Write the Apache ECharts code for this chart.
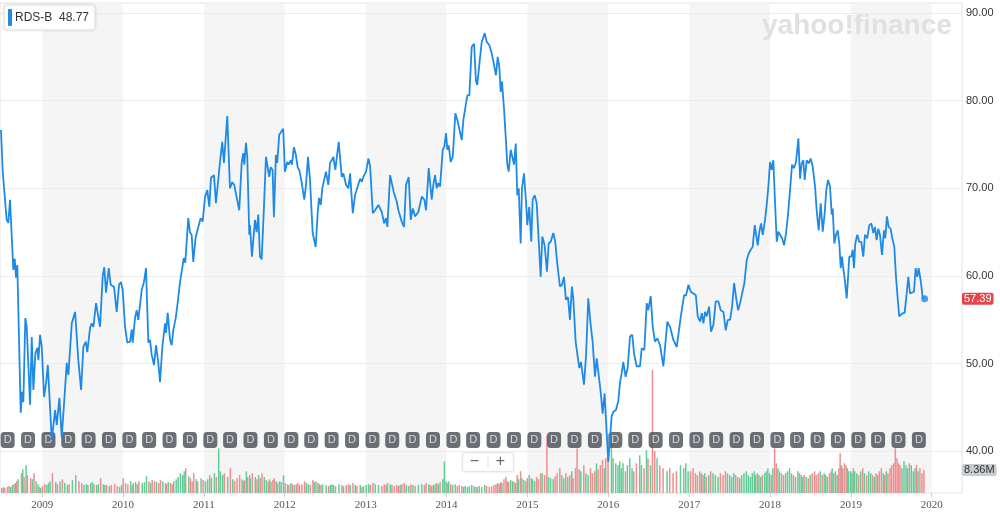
<!DOCTYPE html>
<html>
<head>
<meta charset="utf-8">
<script src="https://cdn.jsdelivr.net/npm/echarts@6/dist/echarts.min.js"></script>
<style>
  html, body { margin: 0; padding: 0; background: #fff; }
  #main { width: 1000px; height: 514px; }
</style>
</head>
<body>
<div id="main"></div>
<script>
// weekly points, time as decimal year
const dates = [
  2008.500,2008.521,2008.537,2008.570,2008.590,2008.611,2008.632,2008.652,2008.669,2008.685,2008.701,2008.743,2008.759,2008.775,2008.800,2008.817,2008.858,2008.879,2008.899,2008.924,2008.948,2008.961,2008.981,
  2009.002,2009.031,2009.056,2009.077,2009.096,2009.126,2009.167,2009.188,2009.220,2009.249,2009.278,2009.311,2009.331,2009.373,2009.414,2009.454,2009.488,2009.516,2009.546,2009.565,2009.599,2009.620,2009.640,2009.673,2009.694,2009.722,2009.756,2009.775,2009.796,2009.830,2009.854,2009.895,2009.928,2009.957,2009.981,
  2010.002,2010.031,2010.059,2010.093,2010.114,2010.126,2010.154,2010.175,2010.195,2010.237,2010.265,2010.290,2010.319,2010.340,2010.360,2010.389,2010.414,2010.442,2010.463,2010.492,2010.525,2010.537,2010.558,2010.587,2010.607,2010.627,2010.657,2010.682,2010.710,2010.738,2010.756,2010.775,2010.812,2010.833,2010.854,2010.874,2010.904,2010.923,2010.965,2010.990,
  2011.019,2011.047,2011.072,2011.093,2011.130,2011.154,2011.183,2011.204,2011.232,2011.253,2011.294,2011.327,2011.356,2011.380,2011.410,2011.442,2011.472,2011.491,2011.504,2011.525,2011.541,2011.566,2011.574,2011.599,2011.636,2011.657,2011.677,2011.698,2011.719,2011.747,2011.772,2011.796,2011.812,2011.830,2011.854,2011.870,2011.895,2011.911,2011.936,2011.957,2011.985,
  2012.006,2012.035,2012.052,2012.077,2012.093,2012.117,2012.142,2012.163,2012.183,2012.212,2012.245,2012.266,2012.290,2012.315,2012.348,2012.364,2012.385,2012.410,2012.426,2012.447,2012.467,2012.512,2012.541,2012.562,2012.583,2012.603,2012.627,2012.669,2012.706,2012.726,2012.759,2012.788,2012.809,2012.842,2012.870,2012.891,2012.932,2012.953,2012.973,
  2013.006,2013.035,2013.056,2013.089,2013.117,2013.158,2013.200,2013.229,2013.253,2013.269,2013.303,2013.324,2013.352,2013.385,2013.405,2013.426,2013.447,2013.475,2013.500,2013.533,2013.558,2013.583,2013.611,2013.652,2013.694,2013.726,2013.747,2013.780,2013.796,2013.817,2013.837,2013.858,2013.879,2013.899,2013.920,2013.953,2013.973,2013.994,
  2014.010,2014.027,2014.052,2014.077,2014.109,2014.134,2014.158,2014.188,2014.208,2014.229,2014.257,2014.282,2014.311,2014.340,2014.364,2014.380,2014.405,2014.435,2014.472,2014.496,2014.528,2014.558,2014.587,2014.611,2014.632,2014.652,2014.669,2014.685,2014.710,2014.735,2014.751,2014.768,2014.793,2014.817,2014.834,2014.855,2014.874,2014.892,2014.916,2014.932,2014.957,2014.982,2014.998,
  2015.022,2015.047,2015.064,2015.089,2015.114,2015.133,2015.163,2015.183,2015.212,2015.241,2015.262,2015.287,2015.319,2015.343,2015.368,2015.401,2015.426,2015.451,2015.475,2015.500,2015.525,2015.549,2015.566,2015.595,2015.615,2015.640,2015.661,2015.698,2015.723,2015.751,2015.781,2015.805,2015.834,2015.855,2015.875,2015.904,2015.929,2015.953,2015.969,
  2015.998,2016.040,2016.060,2016.093,2016.121,2016.142,2016.163,2016.183,2016.212,2016.237,2016.266,2016.294,2016.315,2016.348,2016.389,2016.410,2016.442,2016.472,2016.491,2016.521,2016.546,2016.574,2016.603,2016.636,2016.677,2016.726,2016.759,2016.800,2016.842,2016.892,2016.932,2016.957,2016.986,
  2017.015,2017.047,2017.077,2017.101,2017.130,2017.151,2017.171,2017.191,2017.212,2017.241,2017.265,2017.294,2017.323,2017.356,2017.385,2017.418,2017.447,2017.472,2017.500,2017.525,2017.550,2017.574,2017.599,2017.624,2017.648,2017.677,2017.706,2017.731,2017.756,2017.780,2017.805,2017.821,2017.842,2017.862,2017.883,2017.904,2017.932,2017.953,2017.973,
  2017.994,2018.015,2018.035,2018.056,2018.077,2018.097,2018.118,2018.143,2018.167,2018.192,2018.216,2018.241,2018.266,2018.290,2018.315,2018.344,2018.365,2018.385,2018.405,2018.422,2018.447,2018.472,2018.496,2018.521,2018.550,2018.570,2018.595,2018.620,2018.645,2018.669,2018.689,2018.710,2018.735,2018.756,2018.768,2018.788,2018.809,2018.830,2018.850,2018.867,2018.883,2018.899,2018.920,2018.941,2018.957,2018.973,
  2018.998,2019.015,2019.031,2019.047,2019.072,2019.096,2019.121,2019.146,2019.167,2019.195,2019.220,2019.245,2019.269,2019.290,2019.311,2019.331,2019.352,2019.377,2019.401,2019.418,2019.438,2019.459,2019.484,2019.504,2019.529,2019.550,2019.571,2019.590,2019.608,2019.632,2019.657,2019.682,2019.702,2019.723,2019.747,2019.772,2019.793,2019.813,2019.830,2019.854,2019.879,2019.904
];

const close = [
  76.65,71.9,71.75,66.4,66.05,68.7,68.7,60.7,61.95,59.8,61.25,44.4,46.8,45.6,55.2,54.2,45.3,53.05,47.0,51.2,51.8,50.4,53.3,
  51.9,46.2,47.8,49.85,49.85,41.3,44.7,43.0,46.1,41.6,45.5,50.1,48.7,54.6,55.9,50.4,47.0,51.9,52.5,51.3,54.1,54.6,54.2,56.9,57.0,54.2,60.1,61.0,58.1,60.9,59.0,58.75,55.9,59.0,59.3,
  58.4,54.2,52.4,52.5,53.9,52.4,55.2,56.1,55.0,58.4,59.3,60.9,52.4,52.7,51.0,49.85,52.1,50.1,47.9,51.9,54.6,53.5,55.8,52.7,52.1,53.8,55.2,57.0,59.3,60.9,62.05,61.5,66.6,65.0,64.7,61.6,64.45,64.3,66.6,66.2,
  69.0,69.8,67.9,71.2,71.5,68.3,71.0,73.0,75.3,72.9,78.25,70.0,70.7,70.4,69.0,67.5,72.9,74.0,72.7,75.2,73.6,64.7,65.8,62.2,66.4,65.0,67.0,62.2,61.9,67.8,73.6,73.5,71.3,72.4,72.1,66.7,73.8,72.9,76.1,76.3,76.8,
  71.9,73.0,72.7,73.2,72.7,74.7,73.8,72.4,72.1,70.7,68.7,70.4,73.6,71.0,64.9,65.0,63.3,67.2,68.9,68.1,70.0,71.9,70.4,72.9,73.2,73.6,72.1,75.3,71.3,71.7,70.4,70.0,71.7,67.15,69.2,69.05,71.1,70.75,71.3,
  71.9,73.4,72.5,67.15,67.5,68.1,67.3,66.0,66.6,65.6,71.5,71.3,69.4,68.5,67.5,67.5,66.2,65.6,70.4,71.3,66.4,67.7,66.8,67.3,69.05,68.7,67.5,72.3,70.75,68.7,70.4,71.5,70.0,70.6,70.2,74.4,74.75,76.3,
  74.4,74.9,73.0,73.6,78.55,77.8,77.6,75.5,77.8,78.0,80.6,80.6,86.15,86.5,82.2,81.8,84.1,86.7,87.7,86.7,86.35,85.4,84.1,82.9,85.0,83.9,81.0,82.2,79.1,75.3,72.7,71.9,74.4,74.6,72.7,75.1,69.2,70.0,63.7,70.0,71.7,68.5,65.8,
  67.9,63.9,68.7,69.2,68.3,68.1,59.9,64.5,63.5,60.5,63.7,63.9,64.9,63.9,61.45,58.8,59.0,59.9,57.3,57.6,55.0,58.8,57.45,52.5,52.3,49.5,50.2,47.6,50.8,57.45,54.4,52.5,48.5,50.6,49.1,46.8,44.3,46.6,43.8,
  38.8,44.0,44.5,44.7,45.7,47.8,48.9,50.2,48.5,49.5,53.1,53.3,51.2,49.7,49.7,51.75,51.55,56.9,56.1,57.7,54.2,52.5,52.9,52.1,49.7,54.8,54.2,52.7,51.9,55.4,57.8,57.8,59.0,
  58.2,58.0,57.8,55.4,54.8,55.75,54.6,55.9,55.4,56.5,53.65,54.4,57.1,57.1,56.1,55.9,53.8,55.0,55.0,56.5,59.2,57.6,56.1,56.9,57.1,59.2,61.8,62.6,63.0,63.35,65.8,66.0,63.5,65.05,66.0,64.7,66.4,68.1,70.2,
  73.0,72.1,73.2,68.3,63.9,65.05,65.2,64.3,63.5,64.9,67.0,69.8,72.7,72.3,73.0,75.7,71.1,72.85,73.2,70.95,73.2,72.85,73.4,72.5,70.2,67.5,65.2,68.3,65.05,67.15,69.8,70.95,70.2,67.0,67.7,63.7,64.7,65.2,63.7,60.9,62.2,60.9,59.35,57.45,59.7,62.2,
  62.2,63.0,60.9,63.7,64.7,63.9,63.9,62.2,64.7,64.3,65.8,66.0,64.9,65.6,64.1,65.4,64.7,62.4,65.2,64.3,66.8,65.6,65.4,64.3,63.35,59.9,57.45,55.4,55.3,55.75,55.8,58.0,59.9,58.0,58.2,58.2,60.9,59.9,60.9,59.55,57.6,57.39
];

// volume, millions
const volume = [
  1.8,2.2,1.8,2.2,2.5,2.2,2.9,3.2,3.6,4.3,5.0,7.2,8.6,5.8,10.1,6.5,5.4,5.0,7.2,4.3,3.2,2.2,1.8,
  2.5,3.2,2.9,3.6,4.3,7.2,4.0,3.2,4.3,5.0,3.6,2.9,3.2,4.7,6.5,4.3,3.6,2.9,3.2,2.9,3.6,4.0,3.2,2.9,3.2,5.4,3.2,2.9,2.9,2.5,2.9,3.2,2.5,2.2,2.9,
  5.4,3.6,3.2,4.3,2.9,3.6,4.0,3.2,4.3,3.6,4.0,6.1,4.3,3.6,4.7,4.3,4.0,3.6,4.7,4.3,3.6,3.2,4.0,3.6,3.2,4.3,5.0,5.8,7.2,6.5,7.9,9.0,6.1,5.4,4.3,7.2,5.0,4.3,5.4,4.7,
  4.3,5.0,6.5,5.4,7.2,5.8,16.2,7.9,6.5,7.2,5.8,9.0,5.0,4.3,5.4,6.5,5.0,4.3,4.7,7.9,5.8,6.5,5.4,7.2,5.8,5.0,6.5,5.4,7.2,5.8,4.7,4.3,5.0,4.0,4.7,5.4,4.3,3.6,4.3,4.0,6.5,
  3.6,3.2,2.9,3.6,3.2,2.9,3.2,3.6,2.9,3.2,4.3,3.6,3.2,2.9,4.7,4.0,4.3,3.6,3.2,2.9,3.2,2.9,2.5,2.9,3.2,2.9,2.5,3.2,2.9,2.5,2.9,3.2,2.9,3.6,2.9,2.5,2.9,2.2,2.5,
  2.9,3.2,2.9,3.6,3.2,2.9,2.5,3.2,2.9,3.6,3.2,2.9,2.5,2.9,2.5,2.9,3.2,3.6,2.9,2.5,3.2,2.9,2.5,2.9,3.2,2.9,3.6,3.2,2.9,2.5,2.9,3.2,3.6,3.2,4.0,5.0,11.5,4.3,
  3.6,4.3,3.2,2.9,3.2,2.5,2.9,2.5,2.2,2.5,2.2,2.5,2.9,2.5,2.2,2.2,2.5,2.2,2.9,2.5,2.2,2.5,2.9,3.2,3.6,3.2,4.0,3.6,5.0,5.8,4.3,4.0,4.7,4.3,4.0,3.6,6.5,5.0,7.9,5.4,4.7,4.3,5.4,
  6.5,5.4,5.0,4.3,5.8,5.0,7.2,7.2,6.5,20.9,5.8,5.4,5.0,6.1,7.2,9.0,6.5,5.4,7.2,5.8,6.5,7.9,5.4,9.0,16.2,8.6,7.9,10.1,7.2,6.5,9.0,7.2,7.9,10.8,8.6,10.1,12.0,9.0,12.6,
  16.2,18.0,12.6,10.8,10.1,11.5,9.0,10.8,7.9,10.1,12.6,9.0,7.9,10.8,13.7,10.1,9.0,15.6,12.6,10.1,44.6,15.2,12.6,10.1,9.0,7.9,9.0,7.2,7.9,10.1,9.0,10.8,7.9,
  7.9,9.0,7.2,6.5,7.9,7.2,6.5,7.2,5.8,6.5,7.9,7.2,6.5,5.8,7.2,6.5,7.9,7.2,6.5,5.8,7.2,6.5,5.8,5.4,6.5,7.2,7.9,6.5,5.8,7.2,7.9,6.5,7.2,6.5,5.8,6.5,7.2,7.9,9.0,
  7.2,6.5,9.0,16.2,10.8,9.0,7.9,7.2,6.5,7.2,7.9,9.0,7.2,6.5,5.8,7.9,7.2,6.5,5.8,6.5,5.8,5.4,6.5,7.2,7.9,6.5,7.2,7.9,6.5,7.2,6.5,5.8,7.2,7.9,9.0,7.2,7.9,6.5,9.0,14.4,10.1,9.0,10.8,10.1,9.0,7.9,
  7.9,7.2,9.0,7.9,7.2,6.5,7.9,9.0,7.2,6.5,7.9,7.2,6.5,5.8,7.2,6.5,7.9,9.0,7.2,6.5,7.9,7.2,9.0,10.1,10.8,16.2,12.6,10.8,10.1,9.0,11.5,10.1,9.0,10.8,10.1,7.9,9.0,10.1,7.9,9.0,7.2,8.36
];

// ex-dividend dates (the "D" flags)
const dividendDates = [
  '2008-08-01','2008-11-01',
  '2009-02-01','2009-05-01','2009-08-01','2009-11-01',
  '2010-02-01','2010-05-01','2010-08-01','2010-11-01',
  '2011-02-01','2011-05-01','2011-08-01','2011-11-01',
  '2012-02-01','2012-05-01','2012-08-01','2012-11-01',
  '2013-02-01','2013-05-01','2013-08-01','2013-11-01',
  '2014-02-01','2014-05-01','2014-08-01','2014-11-01',
  '2015-02-01','2015-05-01','2015-08-01','2015-11-01',
  '2016-02-01','2016-05-01','2016-08-01','2016-11-01',
  '2017-02-01','2017-05-01','2017-08-01','2017-11-01',
  '2018-02-01','2018-05-01','2018-08-01','2018-11-01',
  '2019-02-01','2019-05-01','2019-08-01','2019-11-01'
];

const shadedYears = [2009, 2011, 2013, 2015, 2017, 2019];
const priceTicks = { min: 40, max: 90, step: 10 };
const ticker = 'RDS-B';
const legendValue = '48.77';
const rangeStart = 2008.4877;
const rangeEnd = 2020.3645;

function toTime(t) {
  const y = Math.floor(t);
  const a = Date.UTC(y, 0, 1), b = Date.UTC(y + 1, 0, 1);
  return a + (t - y) * (b - a);
}

const lineData = dates.map((t, i) => [toTime(t), close[i]]);
const volData = dates.map((t, i) => {
  const up = i === 0 || close[i] >= close[i - 1];
  return {
    value: [toTime(t), volume[i]],
    itemStyle: { color: up ? '#62cc98' : '#ee8e8e' }
  };
});
const last = lineData[lineData.length - 1];
const lastVol = volume[volume.length - 1];
const divRow = 41.3;  // vertical spot of the D flags on the price scale

const chart = echarts.init(document.getElementById('main'));
const font = '"Liberation Sans", Arial, sans-serif';

const option = {
  animation: false,
  useUTC: true,
  legend: {
    left: 4, top: 5,
    selectedMode: false,
    data: [{ name: ticker, icon: 'roundRect' }],
    itemWidth: 4, itemHeight: 17,
    padding: [4, 6, 4, 4],
    backgroundColor: '#fff',
    borderColor: '#e4e4e4', borderWidth: 1, borderRadius: 3,
    shadowBlur: 3, shadowColor: 'rgba(0,0,0,0.12)',
    formatter: name => name + '  ' + legendValue,
    textStyle: { fontSize: 12, color: '#333', fontFamily: font, padding: [0, 0, 0, -2] }
  },
  grid: [
    { left: 0, right: 38, top: 13, bottom: 62.7 },
    { left: 0, right: 38, top: 3, bottom: 21, show: true, borderColor: '#e2e2e2', borderWidth: 1, backgroundColor: 'transparent' }
  ],
  xAxis: [
    { type: 'time', gridIndex: 0, min: toTime(rangeStart), max: toTime(rangeEnd), show: false },
    {
      type: 'time', gridIndex: 1, min: toTime(rangeStart), max: toTime(rangeEnd),
      minInterval: 365 * 864e5, maxInterval: 366 * 864e5,
      axisLine: { show: false },
      axisTick: { show: true, length: 4, lineStyle: { color: '#cfcfcf' } },
      splitLine: { show: false },
      axisLabel: {
        formatter: '{yyyy}', color: '#555', fontSize: 11, margin: 7,
        fontFamily: '"Liberation Serif", serif',
        showMinLabel: false, showMaxLabel: false
      }
    }
  ],
  yAxis: [
    {
      type: 'value', gridIndex: 0, position: 'right', z: 1,
      min: priceTicks.min, max: priceTicks.max, interval: priceTicks.step,
      axisLine: { show: false }, axisTick: { show: false },
      splitLine: { lineStyle: { color: '#ececec' } },
      axisLabel: { formatter: v => v.toFixed(2), color: '#333', fontSize: 11, margin: 4, fontFamily: font }
    },
    { type: 'value', gridIndex: 1, min: 0, max: 178, show: false, splitLine: { show: false } }
  ],
  graphic: [
    {
      type: 'text', left: 762, top: 12, z: 5, silent: true,
      style: { text: 'yahoo!finance', font: 'bold 28px "Liberation Sans", Arial, sans-serif', fill: '#e0e0e0' }
    },
    {
      type: 'group', left: 462, top: 452, z: 10, silent: true,
      children: [
        { type: 'rect', shape: { x: 0, y: 0, width: 51, height: 19, r: 2 },
          style: { fill: '#fff', stroke: '#e6e6e6', lineWidth: 1, shadowBlur: 3, shadowColor: 'rgba(0,0,0,0.1)' } },
        { type: 'text', style: { x: 12, y: 9.5, text: '\u2212', fill: '#666', font: '16px ' + font, align: 'center', verticalAlign: 'middle' } },
        { type: 'line', shape: { x1: 25.5, y1: 4, x2: 25.5, y2: 15 }, style: { stroke: '#e0e0e0', lineWidth: 1 } },
        { type: 'text', style: { x: 38, y: 9.5, text: '+', fill: '#666', font: '16px ' + font, align: 'center', verticalAlign: 'middle' } }
      ]
    }
  ],
  series: [
    {
      type: 'custom', name: 'bands', xAxisIndex: 1, yAxisIndex: 1, z: 0, silent: true,
      data: shadedYears.map(y => [toTime(y), toTime(y + 1)]),
      encode: { x: [0, 1] },
      renderItem: (params, api) => {
        const cs = params.coordSys;
        const s = api.coord([api.value(0), 0]);
        const e = api.coord([api.value(1), 0]);
        const x0 = Math.max(s[0], cs.x), x1 = Math.min(e[0], cs.x + cs.width);
        return { type: 'rect', shape: { x: x0, y: cs.y, width: x1 - x0, height: cs.height }, style: { fill: '#f5f5f5' } };
      }
    },
    {
      type: 'bar', name: 'Volume', xAxisIndex: 1, yAxisIndex: 1, z: 2,
      barWidth: 1.5, data: volData, silent: true,
      markLine: {
        silent: true, symbol: 'none',
        lineStyle: { color: 'rgba(0,0,0,0)', width: 1 },
        label: {
          show: true, position: 'end', distance: 0, formatter: () => lastVol.toFixed(2) + 'M',
          backgroundColor: '#c9ccd2', color: '#333', fontSize: 11, fontFamily: font,
          padding: [1, 2, 0, 2], borderRadius: 2
        },
        data: [{ yAxis: lastVol }]
      }
    },
    {
      type: 'scatter', name: 'div', xAxisIndex: 0, yAxisIndex: 0, z: 3, silent: true,
      data: dividendDates.map(d => [new Date(d).getTime(), divRow]),
      symbol: 'roundRect', symbolSize: [14, 16],
      itemStyle: { color: '#474c54' },
      label: { show: true, formatter: 'D', position: 'inside', color: '#f2f2f2', fontSize: 11, fontFamily: font }
    },
    {
      type: 'line', name: ticker, xAxisIndex: 0, yAxisIndex: 0, z: 4,
      data: lineData, showSymbol: false, clip: false,
      itemStyle: { color: '#1f8ae6' },
      lineStyle: { color: '#1f8ae6', width: 1.8 },
      markLine: {
        silent: true, symbol: 'none',
        lineStyle: { color: 'rgba(0,0,0,0)', width: 1 },
        label: {
          show: true, position: 'end', distance: 0, formatter: () => last[1].toFixed(2),
          backgroundColor: '#e7434a', color: '#fff', fontSize: 11, fontFamily: font,
          padding: [1, 2, 0, 2], borderRadius: 2
        },
        data: [{ yAxis: last[1] }]
      }
    },
    {
      type: 'scatter', name: 'last', xAxisIndex: 0, yAxisIndex: 0, z: 5, silent: true,
      data: [last], symbolSize: 7, itemStyle: { color: '#1f8ae6' }
    }
  ]
};

chart.setOption(option);
</script>
</body>
</html>
